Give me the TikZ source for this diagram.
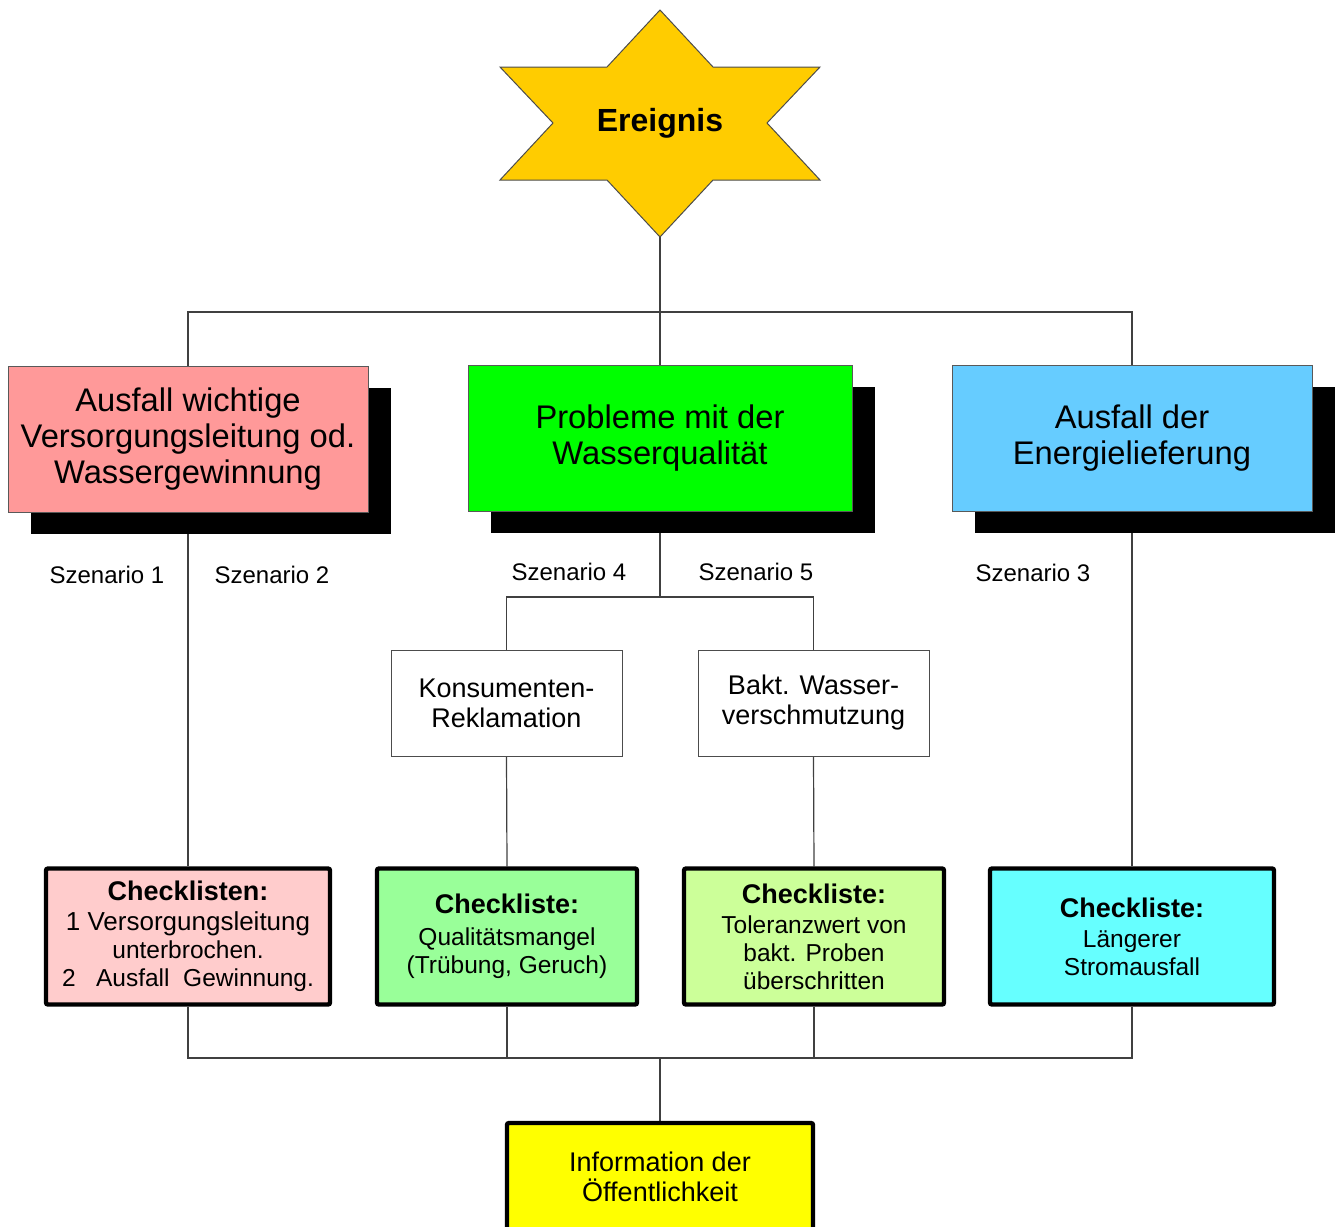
\documentclass[tikz,border=0pt]{standalone}
\usepackage{fontspec}
\setmainfont{Liberation Sans}
\usetikzlibrary{shadows}
\usetikzlibrary{backgrounds}

\definecolor{sterngelb}{HTML}{FFCC00}
\definecolor{rot}{HTML}{FF9999}
\definecolor{gruen}{HTML}{00FF00}
\definecolor{blau}{HTML}{66CCFF}
\definecolor{hellrot}{HTML}{FFCCCC}
\definecolor{hellgruen}{HTML}{99FF99}
\definecolor{gelbgruen}{HTML}{CCFF99}
\definecolor{tuerkis}{HTML}{66FFFF}
\definecolor{infogelb}{HTML}{FFFF00}

\newcommand{\listentitel}[1]{{\fontsize{13.5}{15}\selectfont\bfseries #1}}

\begin{document}
\begin{tikzpicture}[x=0.5pt,y=-0.5pt,
    conn/.style={draw=black!75,line width=0.6pt},
    stern/.style={draw=black!70,line width=0.5pt,fill=sterngelb},
    szenario/.style={font=\fontsize{12}{14}\selectfont},
    haupt/.style={draw=black!65,line width=0.5pt,minimum height=73pt,align=center,
      font=\fontsize{16.35}{18}\selectfont,
      drop shadow={opacity=1,fill=black,shadow xshift=11.5pt,shadow yshift=-11pt}},
    fall/.style={draw=black!70,line width=0.5pt,fill=white,minimum width=115.5pt,
      minimum height=53pt,align=center,font=\fontsize{13.5}{15}\selectfont},
    liste/.style={draw=black,line width=2.2pt,rounded corners=1pt,minimum height=68pt,
      align=center,font=\fontsize{12.25}{14}\selectfont}
  ]

  \useasboundingbox (0,0) rectangle (1340,1227);

  \draw[stern] (660,10) -- (713,67) -- (820,67) -- (767,123) -- (820,180) -- (713,180)
    -- (660,237) -- (607,180) -- (500,180) -- (553,123) -- (500,67) -- (607,67) -- cycle;
  \node (ev) at (660,123) {\fontsize{16}{18}\selectfont\bfseries Ereignis};
  \coordinate (evbot) at (660,237);

  \node [haupt,fill=rot,minimum width=180pt] (b1) at (188,439)
    {Ausfall wichtige\\Versorgungsleitung od.\\Wassergewinnung};
  \node [haupt,fill=gruen,minimum width=192pt] (b2) at (660,438)
    {Probleme mit der\\Wasserqualität};
  \node [haupt,fill=blau,minimum width=180pt] (b3) at (1132,438)
    {Ausfall der\\Energielieferung};

  \node [szenario] (s1) at (107,575) {Szenario 1};
  \node [szenario] (s2) at (272,575) {Szenario 2};
  \node [szenario] (s4) at (569,572) {Szenario 4};
  \node [szenario] (s5) at (756,572) {Szenario 5};
  \node [szenario] (s3) at (1033,573) {Szenario 3};

  \node [fall] (kons) at (506.5,703) {Konsumenten-\\Reklamation};
  \node [fall] (bakt) at (813.5,703) {Bakt. Wasser-\\verschmutzung};

  \node [liste,fill=hellrot,minimum width=142pt,font=\fontsize{13}{14}\selectfont] (c1) at (188,936.5)
    {\listentitel{Checklisten:}\\[1pt]1 Versorgungsleitung\\
     {\fontsize{12.25}{14}\selectfont unterbrochen.}\\
     {\fontsize{12.25}{14}\selectfont 2\ \ \ Ausfall\ \ Gewinnung.}};
  \node [liste,fill=hellgruen,minimum width=130pt] (c2) at (507,936.5)
    {\listentitel{Checkliste:}\\[2pt]Qualitätsmangel\\(Trübung, Geruch)};
  \node [liste,fill=gelbgruen,minimum width=130pt] (c3) at (814,936.5)
    {\listentitel{Checkliste:}\\[1pt]Toleranzwert von\\bakt. Proben\\überschritten};
  \node [liste,fill=tuerkis,minimum width=142pt] (c4) at (1132,936.5)
    {\listentitel{Checkliste:}\\[1pt]Längerer\\Stromausfall};

  \node [liste,fill=infogelb,minimum width=153pt,minimum height=54pt,
    font=\fontsize{13.5}{15}\selectfont] (info) at (660,1177)
    {Information der\\Öffentlichkeit};

  \coordinate (hub) at (660,312);
  \coordinate (split) at (660,597);
  \coordinate (join) at (660,1058);

  \begin{scope}[on background layer]
    \draw[conn] (evbot) -- (b2.north);
    \draw[conn] (b1.north) |- (hub) -| (b3.north);
    \draw[conn] (b1.south) -- (c1.north);
    \draw[conn] (b3.south) -- (c4.north);
    \draw[conn] (b2.south) -- (split);
    \draw[conn] (kons.north) |- (split) -| (bakt.north);
    \draw[conn] (kons.south) -- (c2.north);
    \draw[conn] (bakt.south) -- (c3.north);
    \draw[conn] (c1.south) |- (join) -| (c4.south);
    \draw[conn] (c2.south) -- (c2.south |- join);
    \draw[conn] (c3.south) -- (c3.south |- join);
    \draw[conn] (join) -- (info.north);
  \end{scope}

\end{tikzpicture}
\end{document}
